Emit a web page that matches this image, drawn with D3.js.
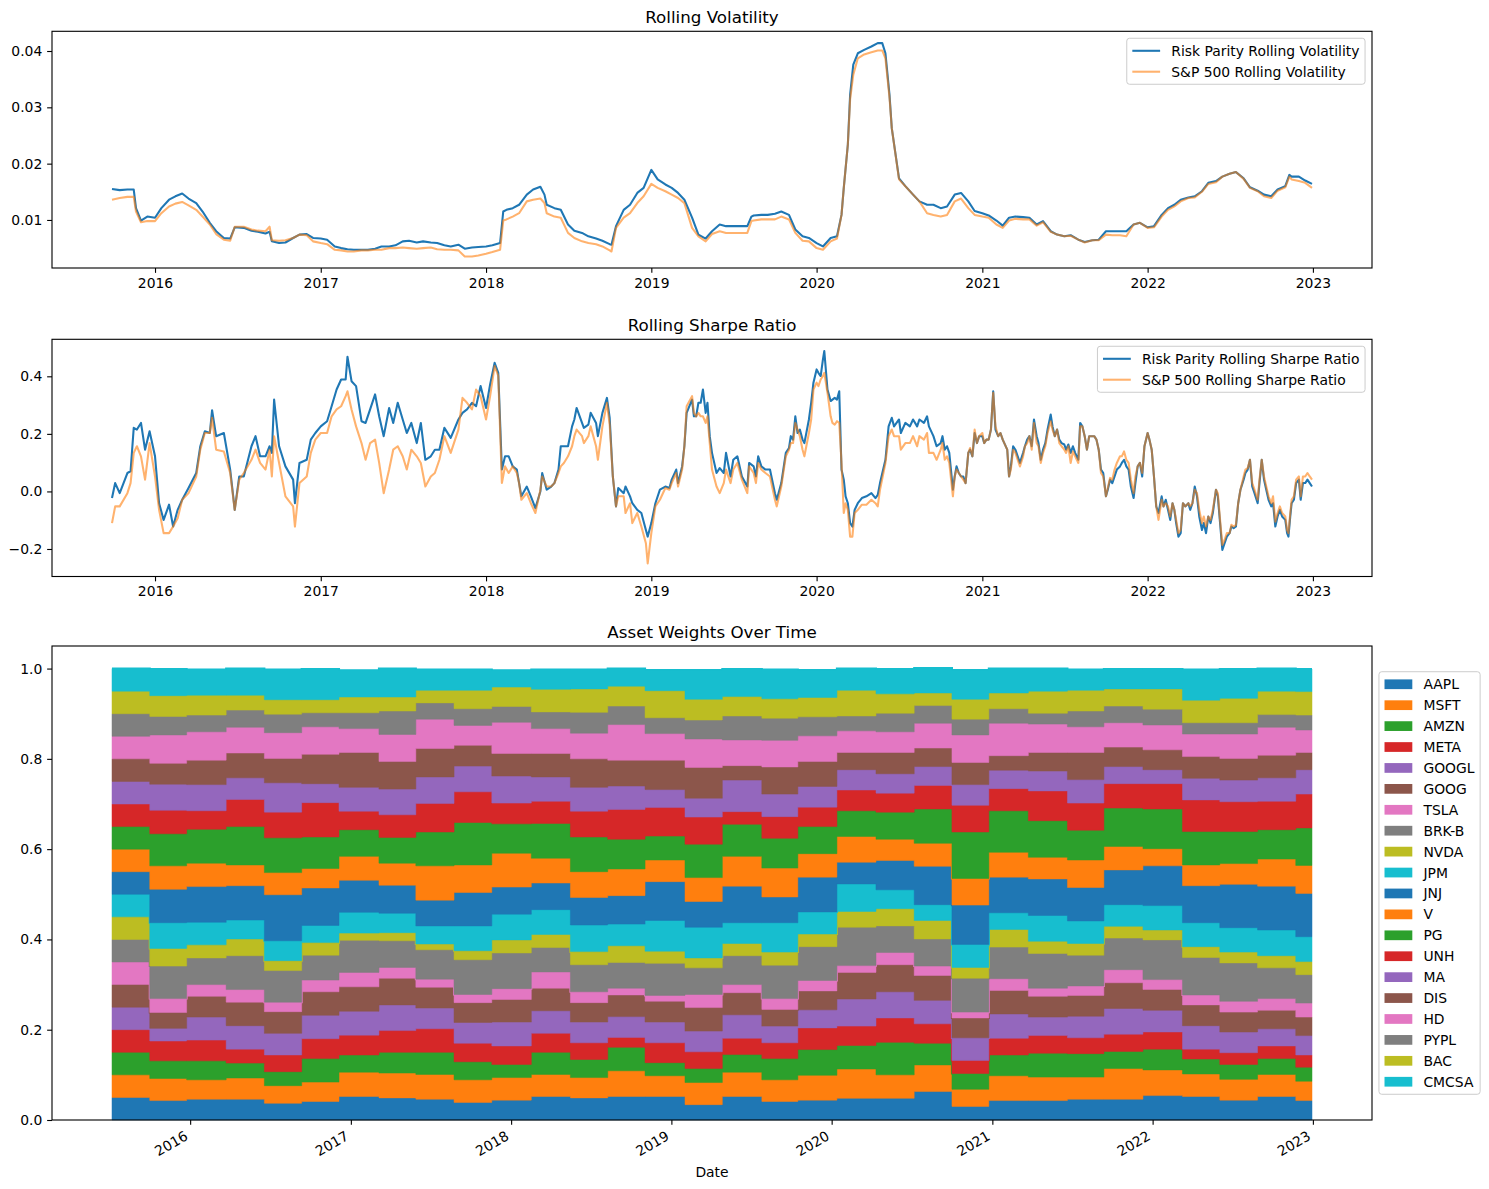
<!DOCTYPE html>
<html>
<head>
<meta charset="utf-8">
<script src="https://cdn.jsdelivr.net/npm/d3@7"></script>
<style>
  body { margin: 0; background: #fff; }
  text { font-family: "DejaVu Sans", sans-serif; fill: #000; }
</style>
</head>
<body>
<svg id="chart"></svg>
<script>
// ---- rolling volatility (~semi-monthly) ----
const volDates = [
  "2015-09-28","2015-10-15","2015-11-01","2015-11-15","2015-11-20","2015-12-01","2015-12-15",
  "2016-01-01","2016-01-15","2016-02-01","2016-02-15","2016-03-01","2016-03-15","2016-04-01","2016-04-15","2016-05-01","2016-05-15","2016-06-01","2016-06-15","2016-06-25","2016-07-15","2016-08-01","2016-08-15","2016-09-01","2016-09-10","2016-09-15","2016-10-01","2016-10-15","2016-11-01","2016-11-15","2016-12-01","2016-12-15",
  "2017-01-01","2017-01-15","2017-02-01","2017-02-15","2017-03-01","2017-03-15","2017-04-01","2017-04-15","2017-05-01","2017-05-15","2017-06-01","2017-06-15","2017-07-01","2017-07-15","2017-08-01","2017-08-15","2017-09-01","2017-09-15","2017-10-01","2017-10-15","2017-11-01","2017-11-15","2017-12-01","2017-12-15",
  "2018-01-01","2018-01-15","2018-02-01","2018-02-08","2018-02-15","2018-03-01","2018-03-15","2018-04-01","2018-04-15","2018-05-01","2018-05-10","2018-05-15","2018-06-01","2018-06-15","2018-07-01","2018-07-15","2018-08-01","2018-08-15","2018-09-01","2018-09-15","2018-10-01","2018-10-05","2018-10-15","2018-11-01","2018-11-15","2018-12-01","2018-12-15",
  "2019-01-01","2019-01-15","2019-02-01","2019-02-15","2019-03-01","2019-03-15","2019-04-01","2019-04-15","2019-05-01","2019-05-15","2019-06-01","2019-06-15","2019-07-01","2019-07-15","2019-08-01","2019-08-10","2019-08-15","2019-09-01","2019-09-15","2019-10-01","2019-10-15","2019-11-01","2019-11-15","2019-12-01","2019-12-15",
  "2020-01-01","2020-01-15","2020-02-01","2020-02-15","2020-02-25","2020-03-01","2020-03-10","2020-03-15","2020-03-22","2020-04-01","2020-04-15","2020-05-01","2020-05-15","2020-05-25","2020-06-01","2020-06-10","2020-06-15","2020-07-01","2020-07-15","2020-08-01","2020-08-15","2020-09-01","2020-09-15","2020-10-01","2020-10-15","2020-11-01","2020-11-15","2020-12-01","2020-12-15",
  "2021-01-01","2021-01-15","2021-02-01","2021-02-15","2021-03-01","2021-03-15","2021-04-01","2021-04-15","2021-05-01","2021-05-15","2021-06-01","2021-06-15","2021-07-01","2021-07-15","2021-08-01","2021-08-15","2021-09-01","2021-09-15","2021-10-01","2021-10-15","2021-11-01","2021-11-15","2021-12-01","2021-12-15",
  "2022-01-01","2022-01-15","2022-02-01","2022-02-15","2022-03-01","2022-03-15","2022-04-01","2022-04-15","2022-05-01","2022-05-15","2022-06-01","2022-06-15","2022-07-01","2022-07-15","2022-08-01","2022-08-15","2022-09-01","2022-09-15","2022-10-01","2022-10-15","2022-11-01","2022-11-10","2022-11-15","2022-12-01","2022-12-15","2022-12-30"
];
const volRiskParity = [
  .0155,.0153,.0154,.0154,.0121,.0099,.0106,
  .0104,.0121,.0136,.0142,.0147,.0138,.0130,.0115,.0095,.0080,.0068,.0067,.0087,.0086,.0081,.0079,.0076,.0079,.0062,.0059,.0060,.0068,.0074,.0075,.0068,
  .0067,.0065,.0053,.0050,.0048,.0047,.0047,.0047,.0049,.0053,.0053,.0055,.0062,.0063,.0060,.0062,.0060,.0059,.0055,.0053,.0056,.0049,.0051,.0052,
  .0053,.0055,.0059,.0115,.0118,.0121,.0127,.0145,.0154,.0159,.0145,.0127,.0121,.0118,.0092,.0081,.0077,.0071,.0067,.0063,.0057,.0056,.0089,.0118,.0127,.0148,.0157,
  .0189,.0172,.0163,.0157,.0148,.0136,.0104,.0074,.0067,.0080,.0092,.0089,.0089,.0089,.0089,.0106,.0108,.0109,.0109,.0111,.0115,.0109,.0083,.0071,.0068,
  .0059,.0053,.0068,.0071,.0109,.0157,.0234,.0322,.0376,.0396,.0402,.0408,.0414,.0414,.0396,.0322,.0263,.0174,.0160,.0145,.0133,.0127,.0127,.0121,.0124,.0145,.0148,.0133,.0116,
  .0112,.0108,.0099,.0090,.0104,.0106,.0105,.0104,.0092,.0098,.0080,.0074,.0071,.0073,.0065,.0061,.0064,.0065,.0080,.0080,.0080,.0080,.0092,.0095,
  .0087,.0089,.0109,.0121,.0127,.0136,.0140,.0142,.0151,.0166,.0169,.0177,.0182,.0185,.0174,.0158,.0152,.0145,.0142,.0154,.0160,.0180,.0177,.0177,.0170,.0164
];
const volSP500 = [
  .0136,.0139,.0141,.0141,.0115,.0096,.0098,
  .0098,.0112,.0124,.0129,.0132,.0126,.0118,.0106,.0092,.0075,.0065,.0063,.0088,.0088,.0083,.0081,.0080,.0088,.0064,.0063,.0064,.0068,.0074,.0073,.0062,
  .0059,.0057,.0047,.0046,.0044,.0044,.0046,.0046,.0047,.0047,.0050,.0050,.0051,.0050,.0049,.0050,.0051,.0048,.0047,.0047,.0046,.0035,.0035,.0037,
  .0040,.0043,.0047,.0099,.0101,.0106,.0112,.0133,.0136,.0138,.0130,.0112,.0106,.0104,.0077,.0068,.0062,.0059,.0057,.0053,.0046,.0044,.0086,.0104,.0112,.0130,.0142,
  .0164,.0157,.0151,.0145,.0139,.0130,.0086,.0071,.0062,.0075,.0080,.0077,.0077,.0077,.0077,.0098,.0099,.0101,.0101,.0101,.0106,.0101,.0077,.0063,.0062,
  .0050,.0047,.0062,.0067,.0109,.0157,.0234,.0314,.0358,.0387,.0394,.0398,.0401,.0401,.0387,.0317,.0263,.0172,.0160,.0145,.0133,.0112,.0109,.0106,.0109,.0133,.0138,.0121,.0109,
  .0106,.0104,.0092,.0086,.0099,.0102,.0101,.0101,.0090,.0096,.0079,.0074,.0071,.0072,.0065,.0060,.0064,.0064,.0074,.0073,.0073,.0071,.0092,.0095,
  .0086,.0087,.0106,.0118,.0124,.0133,.0139,.0140,.0150,.0164,.0167,.0177,.0182,.0185,.0173,.0157,.0151,.0142,.0139,.0152,.0158,.0177,.0172,.0169,.0166,.0157
];

// ---- rolling sharpe ratio ----
const sharpeDates = [
  "2015-09-28","2015-10-05","2015-10-15","2015-11-01","2015-11-08","2015-11-15","2015-11-22","2015-12-01","2015-12-10","2015-12-20",
  "2016-01-01","2016-01-10","2016-01-20","2016-02-01","2016-02-10","2016-02-20","2016-03-01","2016-03-15","2016-04-01","2016-04-10","2016-04-20","2016-05-01","2016-05-06","2016-05-15","2016-06-01","2016-06-15","2016-06-25","2016-07-05","2016-07-15","2016-08-01","2016-08-10","2016-08-20","2016-09-01","2016-09-10","2016-09-15","2016-09-20","2016-10-01","2016-10-15","2016-11-01","2016-11-05","2016-11-15","2016-12-01","2016-12-10","2016-12-20",
  "2017-01-01","2017-01-15","2017-01-25","2017-02-05","2017-02-15","2017-02-25","2017-03-01","2017-03-10","2017-03-20","2017-04-01","2017-04-10","2017-04-20","2017-05-01","2017-05-10","2017-05-20","2017-06-01","2017-06-10","2017-06-20","2017-07-01","2017-07-10","2017-07-20","2017-08-01","2017-08-10","2017-08-20","2017-09-01","2017-09-10","2017-09-20","2017-10-01","2017-10-15","2017-11-01","2017-11-10","2017-11-20","2017-12-01","2017-12-10","2017-12-20",
  "2018-01-01","2018-01-10","2018-01-20","2018-01-28","2018-02-05","2018-02-12","2018-02-20","2018-03-01","2018-03-10","2018-03-15","2018-03-20","2018-04-01","2018-04-10","2018-04-20","2018-05-01","2018-05-05","2018-05-15","2018-05-25","2018-06-01","2018-06-10","2018-06-15","2018-06-22","2018-07-01","2018-07-10","2018-07-15","2018-07-20","2018-08-01","2018-08-05","2018-08-15","2018-08-20","2018-09-01","2018-09-05","2018-09-15","2018-09-25","2018-10-01","2018-10-08","2018-10-15","2018-10-20","2018-11-01","2018-11-05","2018-11-15","2018-11-20","2018-12-01","2018-12-10","2018-12-20","2018-12-24",
  "2019-01-01","2019-01-10","2019-01-20","2019-02-01","2019-02-10","2019-02-15","2019-02-25","2019-03-01","2019-03-10","2019-03-15","2019-03-20","2019-04-01","2019-04-05","2019-04-10","2019-04-15","2019-04-20","2019-04-25","2019-05-01","2019-05-05","2019-05-10","2019-05-15","2019-05-25","2019-06-01","2019-06-10","2019-06-15","2019-06-25","2019-07-01","2019-07-10","2019-07-20","2019-08-01","2019-08-05","2019-08-15","2019-08-20","2019-08-25","2019-09-01","2019-09-10","2019-09-20","2019-10-01","2019-10-05","2019-10-15","2019-10-25","2019-11-01","2019-11-05","2019-11-10","2019-11-15","2019-11-20","2019-11-25","2019-12-01","2019-12-05","2019-12-15","2019-12-20","2019-12-25",
  "2020-01-01","2020-01-05","2020-01-10","2020-01-15","2020-01-18","2020-01-25","2020-02-01","2020-02-05","2020-02-10","2020-02-15","2020-02-20","2020-02-25","2020-03-01","2020-03-05","2020-03-10","2020-03-15","2020-03-20","2020-03-25","2020-04-01","2020-04-10","2020-04-20","2020-05-01","2020-05-10","2020-05-15","2020-05-20","2020-06-01","2020-06-08","2020-06-15","2020-06-20","2020-07-01","2020-07-05","2020-07-15","2020-07-25","2020-08-01","2020-08-10","2020-08-15","2020-08-25","2020-09-01","2020-09-05","2020-09-15","2020-09-22","2020-10-01","2020-10-05","2020-10-10","2020-10-15","2020-10-20","2020-10-28","2020-11-01","2020-11-05","2020-11-10","2020-11-15","2020-11-20","2020-11-25","2020-12-01","2020-12-05","2020-12-10","2020-12-15","2020-12-20","2020-12-25",
  "2021-01-01","2021-01-05","2021-01-10","2021-01-15","2021-01-20","2021-01-25","2021-01-30","2021-02-05","2021-02-10","2021-02-15","2021-02-25","2021-03-01","2021-03-05","2021-03-10","2021-03-15","2021-03-25","2021-04-01","2021-04-05","2021-04-10","2021-04-15","2021-04-20","2021-04-25","2021-05-01","2021-05-05","2021-05-10","2021-05-15","2021-05-20","2021-05-25","2021-06-01","2021-06-05","2021-06-10","2021-06-15","2021-06-20","2021-06-25","2021-07-01","2021-07-05","2021-07-10","2021-07-15","2021-07-20","2021-07-25","2021-08-01","2021-08-05","2021-08-10","2021-08-15","2021-08-20","2021-08-25","2021-09-01","2021-09-05","2021-09-10","2021-09-15","2021-09-20","2021-09-25","2021-10-01","2021-10-05","2021-10-10","2021-10-15","2021-10-20","2021-10-25","2021-11-01","2021-11-05","2021-11-10","2021-11-15","2021-11-20","2021-11-25","2021-12-01","2021-12-05","2021-12-10","2021-12-15","2021-12-20","2021-12-25",
  "2022-01-01","2022-01-05","2022-01-10","2022-01-15","2022-01-20","2022-01-25","2022-02-01","2022-02-05","2022-02-10","2022-02-15","2022-02-20","2022-02-25","2022-03-01","2022-03-05","2022-03-10","2022-03-15","2022-03-20","2022-03-25","2022-04-01","2022-04-05","2022-04-10","2022-04-15","2022-04-20","2022-04-25","2022-05-01","2022-05-05","2022-05-10","2022-05-15","2022-05-20","2022-05-25","2022-06-01","2022-06-05","2022-06-10","2022-06-15","2022-06-20","2022-06-25","2022-07-01","2022-07-05","2022-07-10","2022-07-15","2022-07-20","2022-07-25","2022-08-01","2022-08-05","2022-08-10","2022-08-15","2022-08-20","2022-08-25","2022-09-01","2022-09-05","2022-09-10","2022-09-15","2022-09-20","2022-09-25","2022-10-01","2022-10-05","2022-10-10","2022-10-15","2022-10-20","2022-10-25","2022-11-01","2022-11-05","2022-11-08","2022-11-12","2022-11-15","2022-11-20","2022-11-25","2022-12-01","2022-12-05","2022-12-10","2022-12-15","2022-12-20","2022-12-25","2022-12-30"
];
const sharpeRiskParity = [
  -.023,.029,-.006,.064,.070,.221,.215,.238,.145,.209,
  .122,-.041,-.099,-.046,-.122,-.064,-.029,.012,.064,.157,.209,.203,.282,.192,.203,.076,-.064,.052,.052,.157,.192,.122,.122,.157,.134,.319,.157,.087,.041,-.041,.099,.110,.180,.203,
  .226,.244,.296,.354,.389,.389,.468,.383,.366,.244,.238,.285,.337,.261,.192,.290,.238,.308,.250,.203,.238,.168,.238,.110,.122,.145,.145,.221,.186,.250,.273,.285,.308,.296,.366,
  .290,.372,.447,.412,.076,.122,.122,.087,.076,.029,-.017,.017,-.017,-.058,.000,.064,.006,.017,.029,.076,.157,.157,.157,.226,.250,.290,.238,.221,.232,.273,.238,.192,.273,.325,.256,.052,-.052,.012,-.006,.017,-.017,-.041,-.064,-.075,-.134,-.157,
  -.110,-.041,.006,.017,.012,.041,.076,.029,.087,.157,.273,.319,.261,.261,.308,.308,.354,.273,.308,.192,.134,.064,.081,.064,.134,.052,.110,.122,.052,.017,.099,.087,.052,.122,.087,.076,.076,-.006,-.029,.029,.134,.151,.192,.180,.261,.203,.215,.180,.168,.250,.308,.378,
  .424,.412,.401,.459,.488,.354,.314,.319,.325,.319,.348,.076,.041,-.017,-.041,-.110,-.122,-.064,-.041,-.023,-.017,-.006,-.023,-.012,.029,.110,.226,.256,.226,.250,.203,.238,.226,.250,.226,.250,.238,.261,.226,.192,.157,.168,.192,.145,.157,.134,.006,.052,.087,.064,.052,.052,.029,.134,.145,.122,.203,.168,.192,
  .192,.168,.180,.180,.215,.348,.215,.192,.203,.180,.145,.052,.087,.157,.145,.099,.134,.157,.180,.192,.157,.250,.192,.168,.110,.145,.168,.215,.267,.226,.192,.215,.180,.168,.163,.145,.163,.134,.157,.134,.110,.238,.226,.192,.145,.192,.192,.192,.180,.145,.076,.064,-.017,.006,.041,.029,.052,.076,.087,.099,.110,.087,.076,.017,-.023,.029,.087,.099,.052,.157,
  .203,.180,.145,.052,-.052,-.075,-.017,-.052,-.029,-.064,-.099,-.041,-.064,-.110,-.157,-.145,-.041,-.052,-.041,-.064,-.041,.017,-.017,-.087,-.134,-.110,-.145,-.087,-.110,-.075,.006,-.017,-.110,-.203,-.180,-.157,-.145,-.122,-.128,-.122,-.041,.006,.041,.064,.076,.110,.017,-.006,-.041,.029,.110,.041,.006,-.029,-.052,-.041,-.122,-.087,-.064,-.087,-.099,-.145,-.157,-.087,-.041,-.029,.029,.041,-.029,.029,.029,.041,.029,.017
];
const sharpeSP500 = [
  -.110,-.052,-.052,-.006,.029,.134,.157,.122,.041,.168,
  .052,-.064,-.145,-.145,-.122,-.093,-.029,-.006,.052,.145,.203,.203,.256,.145,.139,.064,-.064,.041,.064,.110,.145,.099,.076,.145,.052,.192,.099,-.017,-.052,-.122,.029,.052,.134,.180,
  .203,.203,.261,.285,.296,.331,.348,.285,.226,.168,.110,.168,.180,.099,-.006,.076,.145,.157,.122,.076,.145,.122,.099,.017,.052,.064,.110,.192,.134,.215,.325,.308,.285,.354,.331,
  .250,.331,.436,.401,.029,.087,.064,.087,.064,.029,-.029,-.006,-.041,-.075,.006,.052,.017,.017,.029,.064,.087,.099,.122,.157,.192,.215,.192,.168,.192,.226,.157,.110,.226,.308,.232,.052,-.052,-.017,-.017,-.075,-.041,-.110,-.075,-.122,-.180,-.250,
  -.145,-.052,-.029,.012,.006,.029,.064,.017,.076,.157,.296,.331,.273,.261,.273,.261,.261,.238,.261,.168,.076,.017,-.006,.029,.076,.029,.076,.099,.041,-.006,.087,.064,.029,.099,.076,.064,.052,-.029,-.052,.017,.122,.145,.168,.168,.238,.215,.192,.145,.122,.203,.250,.354,
  .378,.366,.389,.401,.412,.343,.261,.238,.232,.244,.238,.099,-.075,-.041,-.064,-.157,-.157,-.075,-.064,-.046,-.046,-.029,-.041,-.052,.006,.099,.192,.215,.192,.192,.145,.168,.168,.192,.157,.192,.180,.203,.134,.134,.110,.145,.168,.110,.122,.099,-.017,.052,.076,.064,.052,.041,.029,.134,.151,.122,.215,.168,.192,
  .203,.168,.180,.180,.215,.343,.226,.192,.203,.180,.145,.052,.076,.145,.134,.087,.122,.157,.168,.192,.145,.238,.168,.157,.099,.134,.157,.203,.244,.215,.192,.215,.168,.157,.145,.134,.157,.099,.139,.122,.099,.226,.226,.192,.145,.192,.192,.192,.180,.145,.064,.052,-.017,.012,.047,.041,.076,.099,.122,.122,.139,.110,.099,.041,-.006,.052,.087,.099,.064,.157,
  .203,.180,.145,.052,-.052,-.099,-.029,-.052,-.041,-.052,-.087,-.041,-.064,-.099,-.145,-.134,-.041,-.052,-.041,-.052,-.041,.006,-.006,-.064,-.110,-.087,-.122,-.087,-.099,-.064,.006,-.006,-.099,-.186,-.168,-.145,-.145,-.116,-.122,-.116,-.041,.006,.052,.076,.081,.110,.029,.006,-.029,.041,.110,.052,.017,-.017,-.041,-.017,-.105,-.075,-.052,-.075,-.087,-.134,-.145,-.075,-.029,-.017,.041,.052,-.017,.052,.052,.064,.052,.041
];

// ---- asset weights, one row per rebalance ----
const tickers = ["AAPL","MSFT","AMZN","META","GOOGL","GOOG","TSLA","BRK-B","NVDA","JPM",
                 "JNJ","V","PG","UNH","MA","DIS","HD","PYPL","BAC","CMCSA"];
const rebalanceDates = [
  "2015-07-07","2015-10-01","2015-12-24","2016-03-23","2016-06-18","2016-09-11","2016-12-05","2017-03-06",
  "2017-05-29","2017-08-24","2017-11-18","2018-02-16","2018-05-16","2018-08-09","2018-11-02","2019-02-01",
  "2019-04-27","2019-07-26","2019-10-16","2020-01-13","2020-04-11","2020-07-07","2020-10-01","2020-12-24",
  "2021-03-24","2021-06-21","2021-09-12","2021-12-10","2022-03-10","2022-06-03","2022-08-28","2022-11-23"
];
const weightsEndDate = "2022-12-30";
const weightRows = [
  [.050,.050,.050,.050,.050,.050,.050,.050,.050,.050,.050,.050,.050,.050,.050,.050,.050,.050,.050,.050],
  [.043,.049,.039,.044,.028,.035,.031,.072,.039,.057,.074,.052,.071,.052,.058,.046,.063,.041,.046,.059],
  [.046,.043,.042,.046,.051,.046,.026,.059,.029,.050,.079,.052,.075,.041,.058,.054,.063,.037,.044,.057],
  [.046,.047,.033,.031,.052,.052,.028,.075,.037,.042,.076,.046,.085,.060,.048,.055,.057,.038,.033,.059],
  [.037,.039,.031,.037,.048,.048,.021,.070,.022,.044,.102,.049,.077,.057,.065,.054,.057,.041,.032,.067],
  [.041,.043,.052,.044,.052,.052,.026,.055,.028,.038,.083,.043,.070,.076,.042,.065,.061,.031,.029,.068],
  [.052,.054,.038,.044,.053,.054,.032,.071,.016,.046,.071,.053,.059,.041,.053,.077,.053,.035,.035,.059],
  [.049,.055,.046,.048,.057,.059,.024,.059,.018,.043,.062,.049,.057,.050,.057,.061,.060,.052,.031,.063],
  [.046,.055,.049,.052,.046,.046,.018,.065,.013,.040,.057,.076,.075,.063,.059,.063,.065,.036,.028,.046],
  [.039,.050,.040,.041,.046,.044,.018,.077,.020,.055,.074,.061,.094,.068,.057,.046,.044,.037,.041,.046],
  [.044,.050,.029,.041,.053,.050,.024,.079,.029,.057,.060,.075,.065,.046,.060,.050,.069,.035,.043,.037],
  [.052,.049,.049,.042,.050,.050,.036,.054,.029,.055,.059,.055,.077,.049,.054,.052,.055,.037,.050,.044],
  [.049,.045,.040,.037,.046,.043,.024,.060,.029,.059,.061,.057,.077,.057,.053,.063,.057,.046,.052,.043],
  [.052,.057,.052,.022,.046,.048,.015,.057,.037,.048,.063,.059,.066,.066,.052,.057,.079,.041,.044,.039],
  [.052,.046,.029,.044,.046,.046,.013,.071,.027,.068,.086,.048,.053,.063,.040,.065,.059,.035,.060,.046],
  [.034,.049,.031,.037,.046,.052,.029,.059,.022,.068,.057,.053,.074,.060,.042,.068,.063,.042,.046,.065],
  [.052,.054,.039,.036,.052,.049,.018,.064,.027,.046,.081,.066,.071,.028,.070,.032,.057,.053,.043,.061],
  [.041,.048,.047,.035,.037,.037,.024,.074,.029,.065,.057,.064,.066,.048,.050,.060,.059,.049,.043,.065],
  [.044,.055,.057,.048,.040,.042,.023,.075,.028,.049,.077,.052,.060,.043,.046,.055,.057,.042,.043,.061],
  [.048,.065,.052,.043,.060,.059,.015,.085,.035,.061,.048,.057,.057,.046,.045,.038,.048,.033,.057,.048],
  [.048,.052,.072,.054,.058,.060,.027,.059,.038,.042,.065,.047,.060,.042,.043,.047,.046,.041,.043,.055],
  [.063,.059,.048,.043,.052,.055,.021,.060,.041,.035,.085,.051,.076,.052,.042,.041,.055,.039,.028,.055],
  [.030,.038,.035,.029,.050,.044,.013,.075,.024,.051,.087,.059,.103,.059,.046,.049,.061,.035,.044,.065],
  [.043,.055,.046,.037,.054,.052,.026,.070,.039,.037,.079,.055,.092,.049,.041,.032,.072,.032,.035,.054],
  [.043,.052,.053,.039,.041,.046,.018,.077,.027,.057,.081,.048,.081,.066,.044,.041,.063,.024,.049,.050],
  [.046,.049,.052,.035,.048,.046,.021,.068,.026,.050,.074,.061,.066,.060,.052,.060,.057,.035,.046,.046],
  [.046,.068,.038,.038,.057,.057,.029,.070,.026,.048,.077,.052,.085,.054,.038,.043,.054,.037,.038,.044],
  [.054,.057,.046,.038,.048,.046,.022,.088,.022,.054,.088,.038,.088,.056,.031,.044,.055,.035,.045,.044],
  [.052,.050,.033,.022,.052,.046,.022,.083,.024,.053,.082,.046,.074,.070,.048,.048,.050,.025,.050,.068],
  [.044,.046,.033,.026,.046,.044,.024,.085,.024,.054,.096,.046,.071,.066,.048,.048,.054,.025,.054,.065],
  [.052,.049,.035,.028,.038,.041,.026,.068,.027,.057,.097,.060,.065,.063,.052,.050,.062,.028,.052,.050],
  [.043,.043,.031,.027,.043,.041,.031,.063,.029,.055,.096,.062,.083,.075,.054,.038,.050,.033,.052,.050]
];

// ---------------------------------------------------------------
let width = 1489;
let height = 1189;
let plotLeft = 52;
let plotRight = 1372;
let fs = 13.9;          // 10pt at 100dpi
let titleFs = 16.7;     // 12pt
let tickLen = 4.86;
let lineW = 2.08;       // 1.5pt
let axisW = 1.11;       // 0.8pt

let parse = d3.timeParse('%Y-%m-%d');
let colors = d3.schemeCategory10;

let svg = d3.select('#chart')
  .attr('width', width)
  .attr('height', height);

svg.append('rect').attr('width', width).attr('height', height).attr('fill', '#fff');

let padDates = (ext, frac) => {
  let span = ext[1] - ext[0];
  return [new Date(+ext[0] - span * frac), new Date(+ext[1] + span * frac)];
};

let styleAxis = (g) => {
  g.select('.domain').remove();
  g.selectAll('.tick line').attr('stroke', '#000').attr('stroke-width', axisW);
  g.selectAll('.tick text')
    .attr('font-family', '"DejaVu Sans", sans-serif')
    .attr('font-size', fs)
    .attr('fill', '#000');
};

let drawFrame = (top, bottom) => {
  svg.append('rect')
    .attr('x', plotLeft).attr('y', top)
    .attr('width', plotRight - plotLeft).attr('height', bottom - top)
    .attr('fill', 'none').attr('stroke', '#000').attr('stroke-width', axisW);
};

let drawTitle = (text, top) => {
  svg.append('text')
    .attr('x', (plotLeft + plotRight) / 2)
    .attr('y', top - 8.3)
    .attr('text-anchor', 'middle')
    .attr('font-size', titleFs)
    .text(text);
};

// matplotlib-like legend box, rows of (handle, label)
let drawLegend = (items, opts) => {
  let g = svg.append('g');
  let rowH = fs * 1.005;
  let gap = fs * 0.5;
  let pad = fs * 0.4;
  let handleW = fs * 2;
  let textX = pad + handleW + fs * 0.8;

  let bg = g.append('rect');
  let maxW = 0;
  items.forEach((it, i) => {
    let cy = pad + rowH / 2 + i * (rowH + gap);
    let t = g.append('text')
      .attr('x', textX).attr('y', cy).attr('dy', '0.36em')
      .attr('font-size', fs)
      .text(it.label);
    maxW = Math.max(maxW, t.node().getComputedTextLength());
    if (it.type === 'line') {
      g.append('line')
        .attr('x1', pad).attr('x2', pad + handleW)
        .attr('y1', cy).attr('y2', cy)
        .attr('stroke', it.color).attr('stroke-width', lineW)
        .attr('stroke-opacity', it.opacity);
    } else {
      g.append('rect')
        .attr('x', pad).attr('y', cy - fs * 0.35)
        .attr('width', handleW).attr('height', fs * 0.7)
        .attr('fill', it.color);
    }
  });
  let boxW = textX + maxW + pad;
  let boxH = pad * 2 + items.length * rowH + (items.length - 1) * gap;
  bg.attr('width', boxW).attr('height', boxH)
    .attr('rx', 2.8).attr('ry', 2.8)
    .attr('fill', '#fff').attr('fill-opacity', 0.8)
    .attr('stroke', '#cccccc').attr('stroke-width', 1);

  let x0 = opts.anchor === 'upper right' ? opts.right - boxW : opts.left;
  let y0 = opts.anchor === 'upper right' ? opts.top : opts.centerY - boxH / 2;
  g.attr('transform', `translate(${x0},${y0})`);
};

// ---- line panels ----
let linePanel = (cfg) => {
  let dates = cfg.dates.map(parse);
  let xScale = d3.scaleTime()
    .domain(padDates(d3.extent(dates), 0.05))
    .range([plotLeft, plotRight]);
  let yScale = d3.scaleLinear()
    .domain(cfg.yDomain)
    .range([cfg.bottom, cfg.top]);

  let line = d3.line()
    .x((d, i) => xScale(dates[i]))
    .y(d => yScale(d));

  cfg.series.forEach(s => {
    svg.append('path')
      .datum(s.values)
      .attr('d', line)
      .attr('fill', 'none')
      .attr('stroke', s.color)
      .attr('stroke-width', lineW)
      .attr('stroke-opacity', s.opacity)
      .attr('stroke-linejoin', 'round');
  });

  let xAxis = d3.axisBottom(xScale)
    .ticks(d3.timeYear.every(1))
    .tickFormat(d3.timeFormat('%Y'))
    .tickSize(tickLen).tickSizeOuter(0).tickPadding(4.86);
  svg.append('g')
    .attr('transform', 'translate(0,' + cfg.bottom + ')')
    .call(xAxis)
    .call(styleAxis);

  let yAxis = d3.axisLeft(yScale)
    .tickValues(cfg.yTicks)
    .tickFormat(cfg.yFormat)
    .tickSize(tickLen).tickSizeOuter(0).tickPadding(4.86);
  svg.append('g')
    .attr('transform', 'translate(' + plotLeft + ',0)')
    .call(yAxis)
    .call(styleAxis);

  drawFrame(cfg.top, cfg.bottom);
  drawTitle(cfg.title, cfg.top);

  drawLegend(cfg.series.map(s => ({type: 'line', color: s.color, opacity: s.opacity, label: s.label})),
    {anchor: 'upper right', right: plotRight - fs * 0.5, top: cfg.top + fs * 0.5});
};

linePanel({
  title: 'Rolling Volatility',
  top: 31.3, bottom: 268,
  dates: volDates,
  yDomain: [0.00147, 0.0435],
  yTicks: [0.01, 0.02, 0.03, 0.04],
  yFormat: d3.format('.2f'),
  series: [
    {values: volRiskParity, color: colors[0], opacity: 1, label: 'Risk Parity Rolling Volatility'},
    {values: volSP500, color: colors[1], opacity: 0.6, label: 'S&P 500 Rolling Volatility'}
  ]
});

linePanel({
  title: 'Rolling Sharpe Ratio',
  top: 339.3, bottom: 576.5,
  dates: sharpeDates,
  yDomain: [-0.2956, 0.5286],
  yTicks: [-0.2, 0.0, 0.2, 0.4],
  yFormat: d3.format('.1f'),
  series: [
    {values: sharpeRiskParity, color: colors[0], opacity: 1, label: 'Risk Parity Rolling Sharpe Ratio'},
    {values: sharpeSP500, color: colors[1], opacity: 0.6, label: 'S&P 500 Rolling Sharpe Ratio'}
  ]
});

// ---- stacked weights panel ----
let areaTop = 646;
let areaBottom = 1120;

let stepRows = rebalanceDates.map((d, i) => {
  let row = {date: parse(d)};
  tickers.forEach((t, j) => { row[t] = weightRows[i][j]; });
  return row;
});
// hold the last weights until the end of the data
let lastRow = Object.assign({}, stepRows[stepRows.length - 1], {date: parse(weightsEndDate)});
stepRows.push(lastRow);

let stacked = d3.stack().keys(tickers)(stepRows);

let xW = d3.scaleTime()
  .domain(padDates([stepRows[0].date, lastRow.date], 0.05))
  .range([plotLeft, plotRight]);
let yW = d3.scaleLinear().domain([0, 1.05]).range([areaBottom, areaTop]);

let area = d3.area()
  .x(d => xW(d.data.date))
  .y0(d => yW(d[0]))
  .y1(d => yW(d[1]))
  .curve(d3.curveStepAfter);
let topLine = d3.line()
  .x(d => xW(d.data.date))
  .y(d => yW(d[1]))
  .curve(d3.curveStepAfter);

stacked.forEach((layer, i) => {
  svg.append('path')
    .datum(layer)
    .attr('d', topLine)
    .attr('fill', 'none')
    .attr('stroke', colors[i % 10])
    .attr('stroke-width', lineW);
  svg.append('path')
    .datum(layer)
    .attr('d', area)
    .attr('fill', colors[i % 10])
    .attr('stroke', colors[i % 10])
    .attr('stroke-width', 0.5);
});

let xAxisW = d3.axisBottom(xW)
  .ticks(d3.timeYear.every(1))
  .tickFormat(d3.timeFormat('%Y'))
  .tickSize(tickLen).tickSizeOuter(0);
let gx = svg.append('g')
  .attr('transform', 'translate(0,' + areaBottom + ')')
  .call(xAxisW)
  .call(styleAxis);
// rotated labels, right-aligned to the tick
gx.selectAll('.tick text')
  .attr('x', 0).attr('y', 0).attr('dy', 0)
  .attr('text-anchor', 'end')
  .attr('transform', 'translate(-1.7,18.9) rotate(-30)');

let yAxisW = d3.axisLeft(yW)
  .tickValues([0, 0.2, 0.4, 0.6, 0.8, 1.0])
  .tickFormat(d3.format('.1f'))
  .tickSize(tickLen).tickSizeOuter(0).tickPadding(4.86);
svg.append('g')
  .attr('transform', 'translate(' + plotLeft + ',0)')
  .call(yAxisW)
  .call(styleAxis);

drawFrame(areaTop, areaBottom);
drawTitle('Asset Weights Over Time', areaTop);

svg.append('text')
  .attr('x', (plotLeft + plotRight) / 2)
  .attr('y', 1177)
  .attr('text-anchor', 'middle')
  .attr('font-size', fs)
  .text('Date');

drawLegend(tickers.map((t, i) => ({type: 'patch', color: colors[i % 10], label: t})),
  {anchor: 'center left', left: plotRight + fs * 0.5, centerY: (areaTop + areaBottom) / 2});
</script>
</body>
</html>
